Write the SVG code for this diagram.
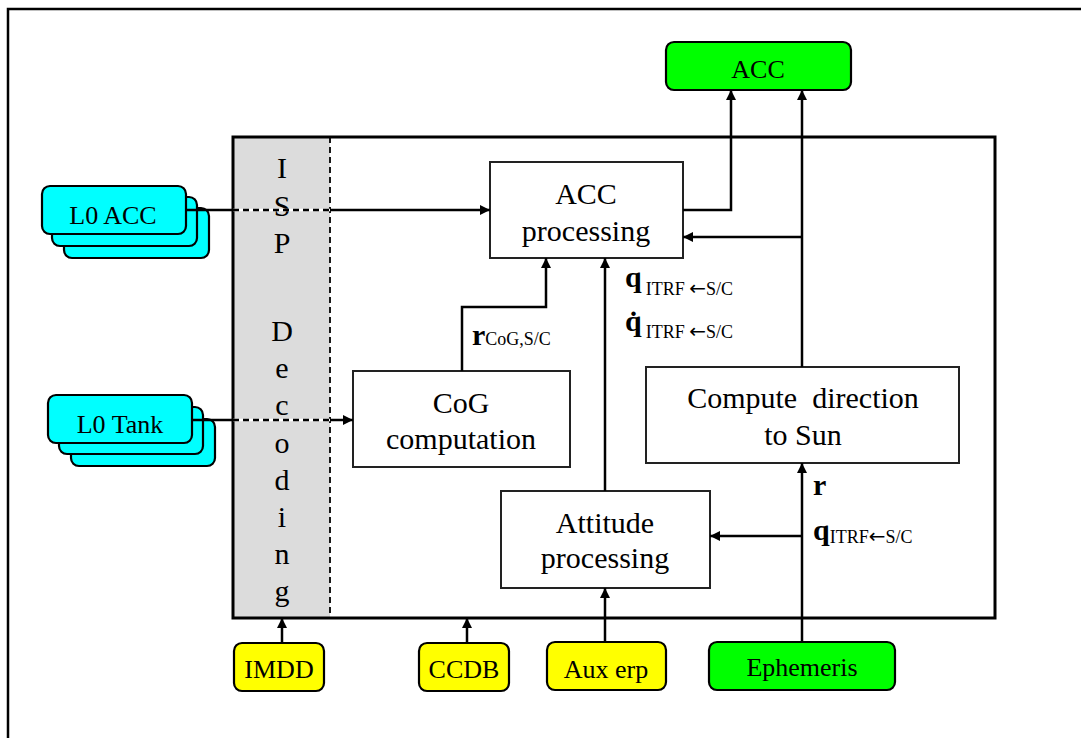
<svg xmlns="http://www.w3.org/2000/svg" width="1081" height="738" viewBox="0 0 1081 738">
<style>
text{font-family:"Liberation Serif","Times New Roman",serif;fill:#000}
.lbl{font-size:30px;text-anchor:middle}
.io{font-size:26px;text-anchor:middle}
.box{fill:#fff;stroke:#222;stroke-width:2}
.cyan{fill:#00ffff;stroke:#000;stroke-width:2.2}
.yel{fill:#ffff00;stroke:#000;stroke-width:2.2}
.grn{fill:#00ff00;stroke:#000;stroke-width:2.2}
.ln{fill:none;stroke:#000;stroke-width:2.5}
.b{font-weight:bold;font-size:30px}
.sub{font-size:18px}
.arr{font-family:"DejaVu Sans",sans-serif;font-size:20px}
</style>
<defs>
<marker id="ah" viewBox="0 0 10 10" refX="10" refY="5" markerWidth="4" markerHeight="4" orient="auto" markerUnits="strokeWidth">
<path d="M0,0 L10,5 L0,10 z" fill="#000"/>
</marker>
</defs>
<rect x="0" y="0" width="1081" height="738" fill="#fff"/>
<path d="M8,738 V9 H1081" fill="none" stroke="#000" stroke-width="2.5"/>

<g id="main-frame">
<rect x="233" y="137" width="97" height="481" fill="#dcdcdc"/>
<line x1="330" y1="137" x2="330" y2="618" stroke="#000" stroke-width="1.8" stroke-dasharray="6 4"/>
<rect x="233" y="137" width="762" height="481" fill="none" stroke="#000" stroke-width="3"/>
<g class="lbl">
<text x="282" y="178">I</text>
<text x="282" y="216">S</text>
<text x="282" y="253">P</text>
<text x="282" y="341">D</text>
<text x="282" y="378">e</text>
<text x="282" y="415">c</text>
<text x="282" y="453">o</text>
<text x="282" y="490">d</text>
<text x="282" y="527">i</text>
<text x="282" y="564">n</text>
<text x="282" y="601">g</text>
</g>
</g>

<g id="l0acc">
<rect class="cyan" x="64" y="208" width="145" height="50" rx="8"/>
<rect class="cyan" x="52" y="197" width="145" height="49" rx="8"/>
<rect class="cyan" x="42" y="186" width="144" height="48" rx="8"/>
<text class="io" x="113" y="224">L0 ACC</text>
</g>

<g id="l0tank">
<rect class="cyan" x="71" y="419" width="144" height="47" rx="8"/>
<rect class="cyan" x="59" y="407" width="144" height="47" rx="8"/>
<rect class="cyan" x="48" y="395" width="144" height="48" rx="8"/>
<text class="io" x="120" y="433">L0 Tank</text>
</g>

<g id="acc-out">
<rect class="grn" x="666" y="42" width="185" height="48" rx="8"/>
<text class="io" x="758" y="78">ACC</text>
</g>

<g id="acc-processing">
<rect class="box" x="490" y="162" width="193" height="96"/>
<text class="lbl" x="586" y="204">ACC</text>
<text class="lbl" x="586" y="241">processing</text>
</g>

<g id="cog">
<rect class="box" x="353" y="371" width="217" height="96"/>
<text class="lbl" x="461" y="413">CoG</text>
<text class="lbl" x="461" y="449">computation</text>
</g>

<g id="attitude">
<rect class="box" x="501" y="491" width="209" height="97"/>
<text class="lbl" x="605" y="533">Attitude</text>
<text class="lbl" x="605" y="568">processing</text>
</g>

<g id="sun">
<rect class="box" x="646" y="367" width="313" height="96"/>
<text class="lbl" x="803" y="408" xml:space="preserve">Compute  direction</text>
<text class="lbl" x="803" y="445">to Sun</text>
</g>

<g id="imdd">
<rect class="yel" x="234" y="643" width="90" height="48" rx="8"/>
<text class="io" x="279" y="678">IMDD</text>
</g>
<g id="ccdb">
<rect class="yel" x="419" y="643" width="90" height="48" rx="8"/>
<text class="io" x="464" y="678">CCDB</text>
</g>
<g id="auxerp">
<rect class="yel" x="547" y="642" width="119" height="48" rx="8"/>
<text class="io" x="606" y="678" xml:space="preserve">Aux erp</text>
</g>
<g id="ephemeris">
<rect class="grn" x="709" y="642" width="186" height="48" rx="8"/>
<text class="io" x="802" y="676">Ephemeris</text>
</g>

<g id="connectors">
<line class="ln" x1="186" y1="210" x2="233" y2="210"/>
<line x1="233" y1="210" x2="330" y2="210" stroke="#fff" stroke-width="2.5"/>
<line x1="233" y1="210" x2="330" y2="210" stroke="#000" stroke-width="2.5" stroke-dasharray="6 4"/>
<line class="ln" x1="330" y1="210" x2="490" y2="210" marker-end="url(#ah)"/>

<line class="ln" x1="192" y1="420" x2="233" y2="420"/>
<line x1="233" y1="420" x2="330" y2="420" stroke="#fff" stroke-width="2.5"/>
<line x1="233" y1="420" x2="330" y2="420" stroke="#000" stroke-width="2.5" stroke-dasharray="6 4"/>
<line class="ln" x1="330" y1="420" x2="353" y2="420" marker-end="url(#ah)"/>

<path class="ln" d="M683,210 H731 V90" marker-end="url(#ah)"/>
<path class="ln" d="M802,367 V90" marker-end="url(#ah)"/>
<path class="ln" d="M802,237 H683" marker-end="url(#ah)"/>
<path class="ln" d="M462,371 V307 H546 V258" marker-end="url(#ah)"/>
<path class="ln" d="M605,491 V258" marker-end="url(#ah)"/>
<path class="ln" d="M802,642 V463" marker-end="url(#ah)"/>
<path class="ln" d="M802,536 H710" marker-end="url(#ah)"/>
<path class="ln" d="M282,643 V618" marker-end="url(#ah)"/>
<path class="ln" d="M467,643 V618" marker-end="url(#ah)"/>
<path class="ln" d="M605,642 V588" marker-end="url(#ah)"/>
</g>

<g id="labels">
<text x="472" y="345"><tspan class="b">r</tspan><tspan class="sub">CoG,S/C</tspan></text>
<text x="625" y="287"><tspan class="b">q</tspan><tspan class="sub" dx="4" dy="8">ITRF </tspan><tspan class="arr">←</tspan><tspan class="sub">S/C</tspan></text>
<text x="625" y="331"><tspan class="b">q̇</tspan><tspan class="sub" dx="4" dy="7">ITRF </tspan><tspan class="arr">←</tspan><tspan class="sub">S/C</tspan></text>
<text x="813" y="495" class="b">r</text>
<text x="813" y="540"><tspan class="b">q</tspan><tspan class="sub" dy="3">ITRF</tspan><tspan class="arr">←</tspan><tspan class="sub">S/C</tspan></text>
</g>
</svg>
